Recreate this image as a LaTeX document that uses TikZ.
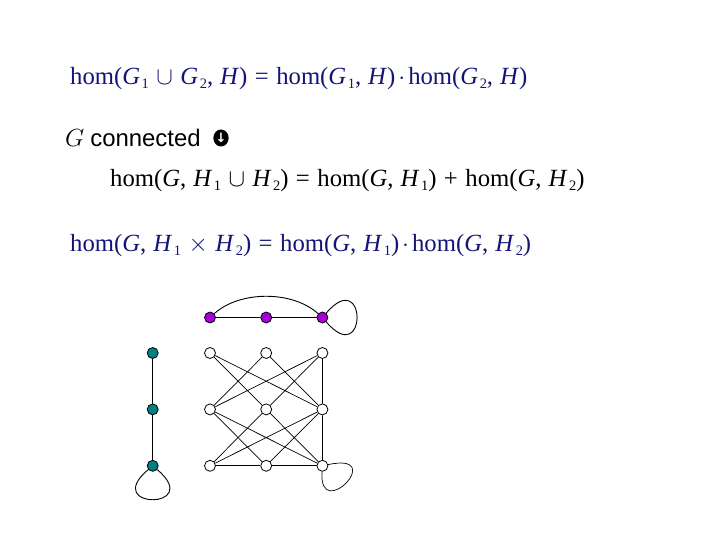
\documentclass[tikz,border=0pt]{standalone}
\usepackage{fontspec}
\setmainfont{Liberation Serif}
\newfontfamily\arialfont{Liberation Sans}
\newfontfamily\dejavufont{DejaVu Sans}
\usepackage{xcolor}
\usetikzlibrary{positioning, shapes.geometric}

\definecolor{navy}{RGB}{20,20,120}
\definecolor{vertpurple}{RGB}{165,0,215}
\definecolor{vertteal}{RGB}{0,128,128}
\newcommand{\subidx}[1]{\kern1.5bp\raisebox{-4bp}{\fontsize{14.5}{14.5}\selectfont #1}}
\newcommand{\binsp}{\hspace{7.5bp}}
\newcommand{\commasp}{,\hspace{7bp}}

\begin{document}
\begin{tikzpicture}[
  x=1bp, y=-1bp,
  node distance=56.4bp and 56.2bp, on grid,
  every node/.style={inner sep=0pt},
  formula/.style={anchor=base west, font=\fontsize{24.8}{29}\selectfont},
  implsym/.style={ellipse, fill=black, text=white, minimum width=14bp,
                  minimum height=17bp, font=\dejavufont\bfseries\fontsize{13}{13}\selectfont},
  vert/.style={circle, draw, fill=white, minimum size=11bp, line width=0.8bp},
  purplevert/.style={vert, fill=vertpurple},
  tealvert/.style={vert, fill=vertteal},
  link/.style={line width=0.9bp},
  thinlink/.style={line width=0.7bp}
]
  \useasboundingbox (0,0) rectangle (720,540);

  % Identities
  \node[formula, text=navy] (equnion) at (70,85)
    {hom(\textit{G}\subidx{1}\binsp$\cup$\binsp\textit{G}\subidx{2}\commasp\textit{H}\/)\binsp=\binsp hom(\textit{G}\subidx{1}\commasp\textit{H}\/)\hspace{3bp}$\cdot$\hspace{3bp}hom(\textit{G}\subidx{2}\commasp\textit{H}\/)};
  \node[anchor=base west, font=\fontsize{24}{28}\selectfont] (gconn) at (65,147)
    {$G$ {\arialfont connected}};
  \node[implsym] (impl) at (221,138) {↓};
  \node[formula] (eqsum) at (110,187)
    {hom(\textit{G}\commasp\textit{H}\subidx{1}\binsp$\cup$\binsp\textit{H}\subidx{2})\binsp=\binsp hom(\textit{G}\commasp\textit{H}\subidx{1})\binsp+\binsp hom(\textit{G}\commasp\textit{H}\subidx{2})};
  \node[formula, text=navy] (eqprod) at (70,252)
    {hom(\textit{G}\commasp\textit{H}\subidx{1}\binsp$\times$\binsp\textit{H}\subidx{2})\binsp=\binsp hom(\textit{G}\commasp\textit{H}\subidx{1})\hspace{3bp}$\cdot$\hspace{3bp}hom(\textit{G}\commasp\textit{H}\subidx{2})};

  % Product graph
  \node[vert] (g11) at (210,353) {};
  \node[vert, right=of g11] (g21) {};
  \node[vert, right=of g21] (g31) {};
  \node[vert, below=of g11] (g12) {};
  \node[vert, right=of g12] (g22) {};
  \node[vert, right=of g22] (g32) {};
  \node[vert, below=of g12] (g13) {};
  \node[vert, right=of g13] (g23) {};
  \node[vert, right=of g23] (g33) {};

  % H1 (purple)
  \node[purplevert, above=35.5bp of g11] (p1) {};
  \node[purplevert, above=35.5bp of g21] (p2) {};
  \node[purplevert, above=35.5bp of g31] (p3) {};

  % H2 (teal)
  \node[tealvert, left=57.3bp of g11] (t1) {};
  \node[tealvert, left=57.3bp of g12] (t2) {};
  \node[tealvert, left=57.3bp of g13] (t3) {};

  % Edges
  \draw[link] (p1) -- (p2) -- (p3);
  \draw[link] (p1) .. controls +(30,-27) and +(-30,-27) .. (p3);
  \draw[link] (p3) .. controls +(45,-52) and +(45,52) .. (p3);
  \draw[link] (t1) -- (t2) -- (t3);
  \draw[link] (t3) .. controls +(-52,44) and +(52,44) .. (t3);

  \draw[thinlink] (g11) -- (g22) (g21) -- (g12) (g21) -- (g32) (g31) -- (g22)
                  (g11) -- (g32) (g31) -- (g12) (g31) -- (g32);
  \draw[thinlink] (g12) -- (g23) (g22) -- (g13) (g22) -- (g33) (g32) -- (g23)
                  (g12) -- (g33) (g32) -- (g13) (g32) -- (g33);
  \draw[thinlink] (g13) -- (g23) -- (g33);
  \draw[thinlink] (g33) .. controls +(66,-14) and +(-4,58) .. (g33);
\end{tikzpicture}
\end{document}
